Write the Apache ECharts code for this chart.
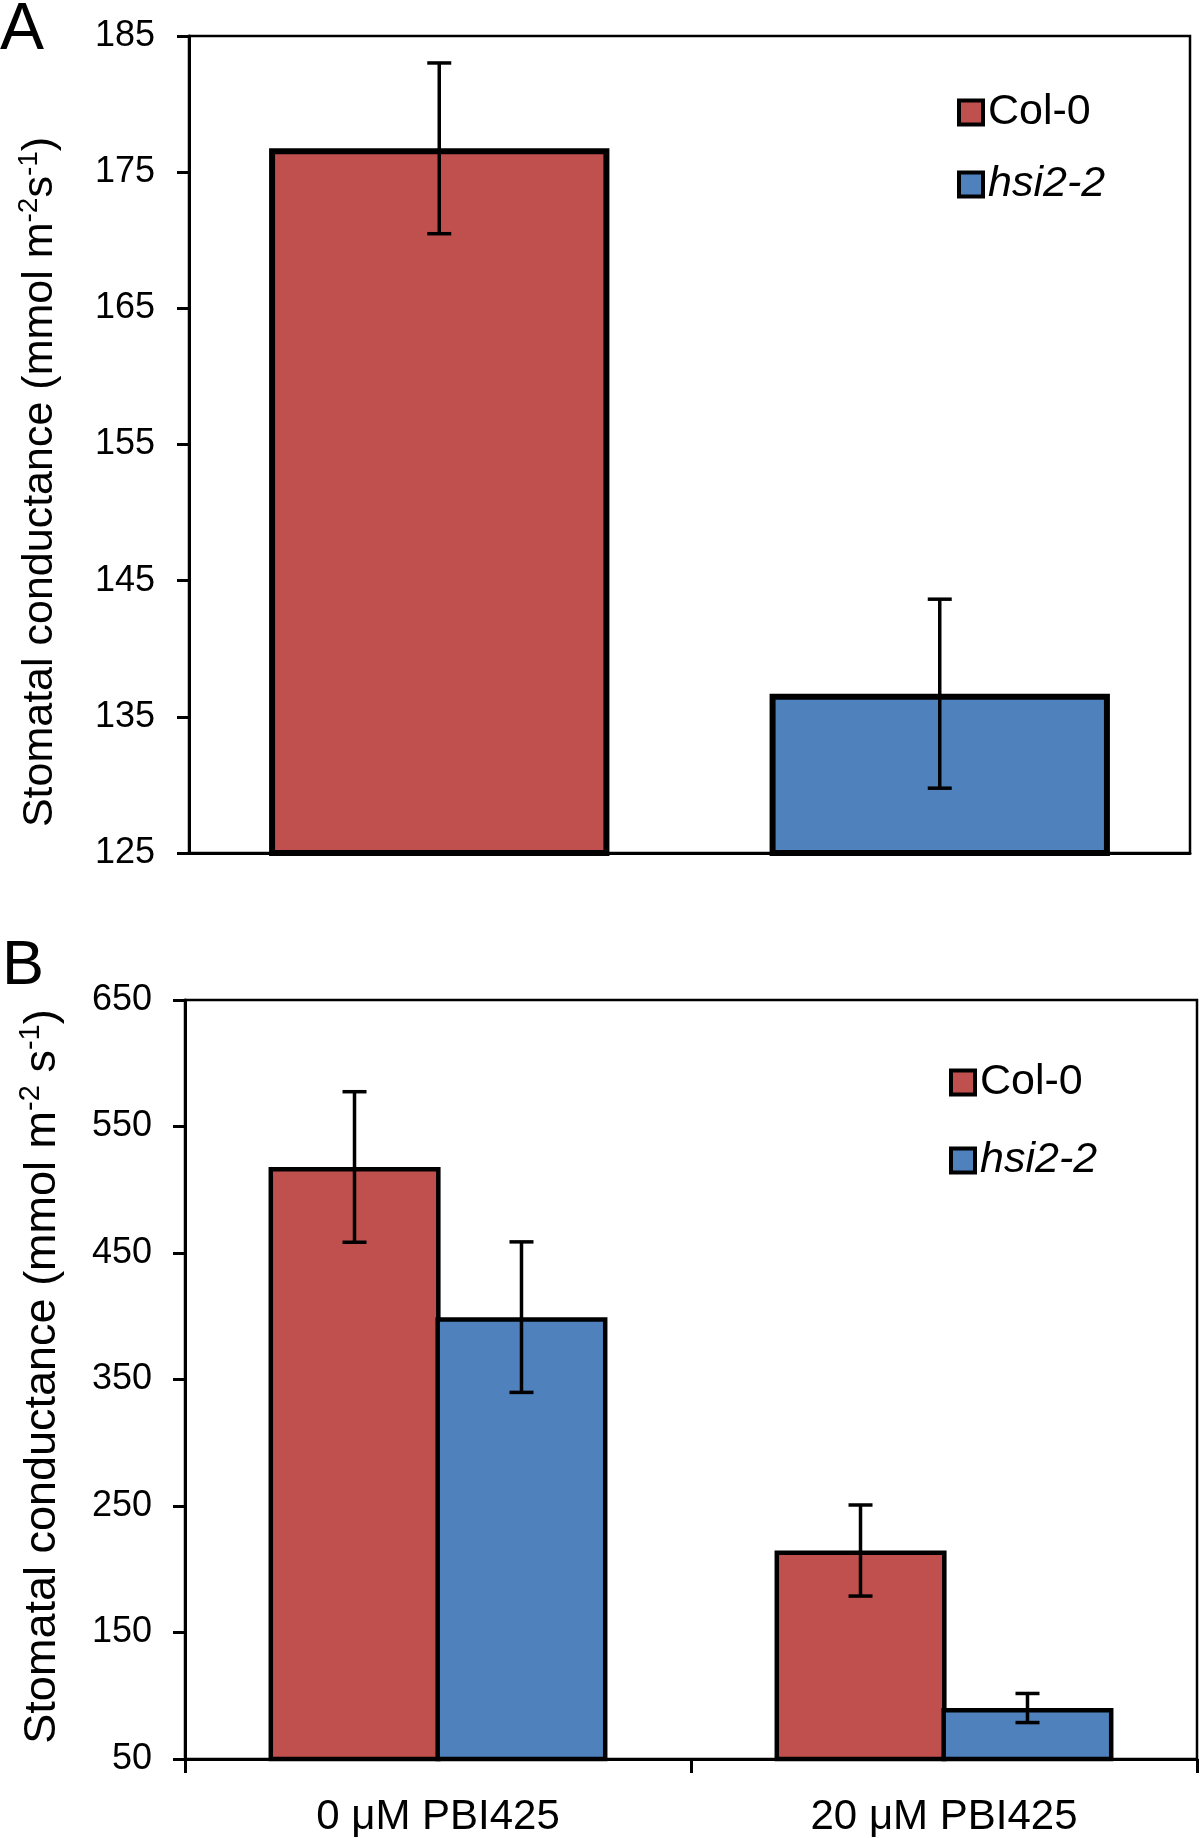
<!DOCTYPE html>
<html>
<head>
<meta charset="utf-8">
<script src="https://cdn.jsdelivr.net/npm/echarts@6/dist/echarts.min.js"></script>
<style>
  html, body { margin: 0; padding: 0; background: #fff; }
  #chart { width: 1200px; height: 1838px; }
</style>
</head>
<body>
<div id="chart"></div>
<script>
// ---- Data ----
const seriesNames = ['Col-0', 'hsi2-2'];

// Panel A
const categoriesA = ['Col-0', 'hsi2-2'];
const valuesA = [176.75, 136.7];
const errorsA = [6.27, 6.94];
const ticksA = [125, 135, 145, 155, 165, 175, 185];

// Panel B
const categoriesB = ['0 μM PBI425', '20 μM PBI425'];
const col0B = [518, 214.8];
const col0BErr = [59.5, 36];
const hsiB = [399.3, 90.3];
const hsiBErr = [59.5, 11.5];
const ticksB = [50, 150, 250, 350, 450, 550, 650];

// ---- Styles ----
const FONT = "'Liberation Sans', Arial, Helvetica, sans-serif";
const RED = '#C0504D';
const BLUE = '#4F81BD';

const yTitleA = '{t|Stomatal conductance (mmol m}{s|-2}{t|s}{s|-1}{t|)}';
const yTitleB = '{t|Stomatal conductance (mmol m}{s|-2}{t| s}{s|-1}{t|)}';
function yTitleStyle(pad, fs, ss) {
  return {
    color: '#000',
    fontFamily: FONT,
    padding: pad,
    rich: {
      t: { fontSize: fs, lineHeight: fs + 4, fontFamily: FONT, color: '#000', verticalAlign: 'bottom' },
      s: { fontSize: ss, lineHeight: ss + 3, fontFamily: FONT, color: '#000', verticalAlign: 'top' }
    }
  };
}

function errorSeries(axisIdx, data, offsetFrac, capHalf, lw) {
  return {
    type: 'custom',
    name: 'err',
    xAxisIndex: axisIdx,
    yAxisIndex: axisIdx,
    z: 10,
    silent: true,
    data: data,
    renderItem: function (params, api) {
      const i = api.value(0), lo = api.value(1), hi = api.value(2);
      const pHi = api.coord([i, hi]);
      const pLo = api.coord([i, lo]);
      const cw = api.size([1, 0])[0];
      const x = pHi[0] + offsetFrac * cw;
      const st = { stroke: '#000', lineWidth: lw };
      return {
        type: 'group',
        children: [
          { type: 'line', shape: { x1: x, y1: pHi[1], x2: x, y2: pLo[1] }, style: st },
          { type: 'line', shape: { x1: x - capHalf, y1: pHi[1], x2: x + capHalf, y2: pHi[1] }, style: st },
          { type: 'line', shape: { x1: x - capHalf, y1: pLo[1], x2: x + capHalf, y2: pLo[1] }, style: st }
        ]
      };
    }
  };
}

const errDataA = valuesA.map((v, i) => [i, v - errorsA[i], v + errorsA[i]]);
const errDataBcol = col0B.map((v, i) => [i, v - col0BErr[i], v + col0BErr[i]]);
const errDataBhsi = hsiB.map((v, i) => [i, v - hsiBErr[i], v + hsiBErr[i]]);

const LFS = 43;
const legendCommon = {
  orient: 'vertical',
  icon: 'rect',
  itemWidth: 24,
  itemHeight: 24,
  padding: 0,
  selectedMode: false,
  data: seriesNames,
  itemStyle: { borderColor: '#000', borderWidth: 4 },
  formatter: function (name) {
    return name === 'hsi2-2' ? '{i|' + name + '}' : '{n|' + name + '}';
  },
  textStyle: {
    color: '#000',
    fontFamily: FONT,
    fontSize: LFS,
    lineHeight: LFS,
    rich: {
      n: { fontSize: LFS, lineHeight: LFS, fontFamily: FONT, color: '#000' },
      i: { fontSize: LFS, lineHeight: LFS, fontFamily: FONT, color: '#000', fontStyle: 'italic' }
    }
  }
};

const axisLineStyle = { color: '#000', width: 3 };

const option = {
  animation: false,
  backgroundColor: '#fff',
  textStyle: { fontFamily: FONT },
  title: [
    { text: 'A', left: 0, top: -2, padding: 0, textStyle: { fontSize: 66, fontWeight: 'normal', color: '#000', fontFamily: FONT } },
    { text: 'B', left: 2, top: 935, padding: 0, textStyle: { fontSize: 63, fontWeight: 'normal', color: '#000', fontFamily: FONT } }
  ],
  legend: [
    Object.assign({}, legendCommon, { left: 957, top: 91, itemGap: 29 }),
    Object.assign({}, legendCommon, { left: 949, top: 1061, itemGap: 35 })
  ],
  grid: [
    { left: 189, top: 36, width: 1001, height: 817, show: true, borderColor: '#000', borderWidth: 2.5, containLabel: false },
    { left: 185, top: 1000, width: 1012, height: 760, show: true, borderColor: '#000', borderWidth: 2.5, containLabel: false }
  ],
  xAxis: [
    {
      type: 'category', gridIndex: 0, data: categoriesA,
      axisLine: { show: true, lineStyle: axisLineStyle },
      axisTick: { show: false },
      axisLabel: { show: false },
      splitLine: { show: false }
    },
    {
      type: 'category', gridIndex: 1, data: categoriesB,
      axisLine: { show: true, lineStyle: axisLineStyle },
      axisTick: { show: true, length: 14, lineStyle: { color: '#000', width: 3 } },
      axisLabel: { show: true, color: '#000', fontSize: 42, fontFamily: FONT, margin: 37 },
      splitLine: { show: false }
    }
  ],
  yAxis: [
    {
      type: 'value', gridIndex: 0, min: ticksA[0], max: ticksA[ticksA.length - 1], interval: 10,
      axisLine: { show: true, lineStyle: axisLineStyle },
      axisTick: { show: true, length: 12, lineStyle: { color: '#000', width: 3 } },
      axisLabel: { color: '#000', fontSize: 36, fontFamily: FONT, margin: 34 },
      splitLine: { show: false },
      name: yTitleA,
      nameLocation: 'middle',
      nameRotate: 90,
      nameGap: 127,
      nameTextStyle: yTitleStyle([0, 75, 0, 0], 43, 28)
    },
    {
      type: 'value', gridIndex: 1, min: ticksB[0], max: ticksB[ticksB.length - 1], interval: 100,
      axisLine: { show: true, lineStyle: axisLineStyle },
      axisTick: { show: true, length: 12, lineStyle: { color: '#000', width: 3 } },
      axisLabel: { color: '#000', fontSize: 36, fontFamily: FONT, margin: 33 },
      splitLine: { show: false },
      name: yTitleB,
      nameLocation: 'middle',
      nameRotate: 90,
      nameGap: 120,
      nameTextStyle: yTitleStyle([0, 0, 0, 6], 45, 29)
    }
  ],
  series: [
    {
      type: 'bar', name: seriesNames[0], xAxisIndex: 0, yAxisIndex: 0,
      data: [valuesA[0], '-'],
      barWidth: '68%', barGap: '-100%',
      itemStyle: { color: RED, borderColor: '#000', borderWidth: 6 }
    },
    {
      type: 'bar', name: seriesNames[1], xAxisIndex: 0, yAxisIndex: 0,
      data: ['-', valuesA[1]],
      barWidth: '68%', barGap: '-100%',
      itemStyle: { color: BLUE, borderColor: '#000', borderWidth: 6 }
    },
    errorSeries(0, errDataA, 0, 12, 3.5),
    {
      type: 'bar', name: seriesNames[0], xAxisIndex: 1, yAxisIndex: 1,
      data: col0B,
      barWidth: '34%', barGap: '-3%',
      itemStyle: { color: RED, borderColor: '#000', borderWidth: 4.5 }
    },
    {
      type: 'bar', name: seriesNames[1], xAxisIndex: 1, yAxisIndex: 1,
      data: hsiB,
      barWidth: '34%', barGap: '-3%',
      itemStyle: { color: BLUE, borderColor: '#000', borderWidth: 4.5 }
    },
    errorSeries(1, errDataBcol, -0.165, 12, 3.5),
    errorSeries(1, errDataBhsi, 0.165, 12, 3.5)
  ]
};

const chart = echarts.init(document.getElementById('chart'), null, { renderer: 'canvas', width: 1200, height: 1838 });
chart.setOption(option);
</script>
</body>
</html>
